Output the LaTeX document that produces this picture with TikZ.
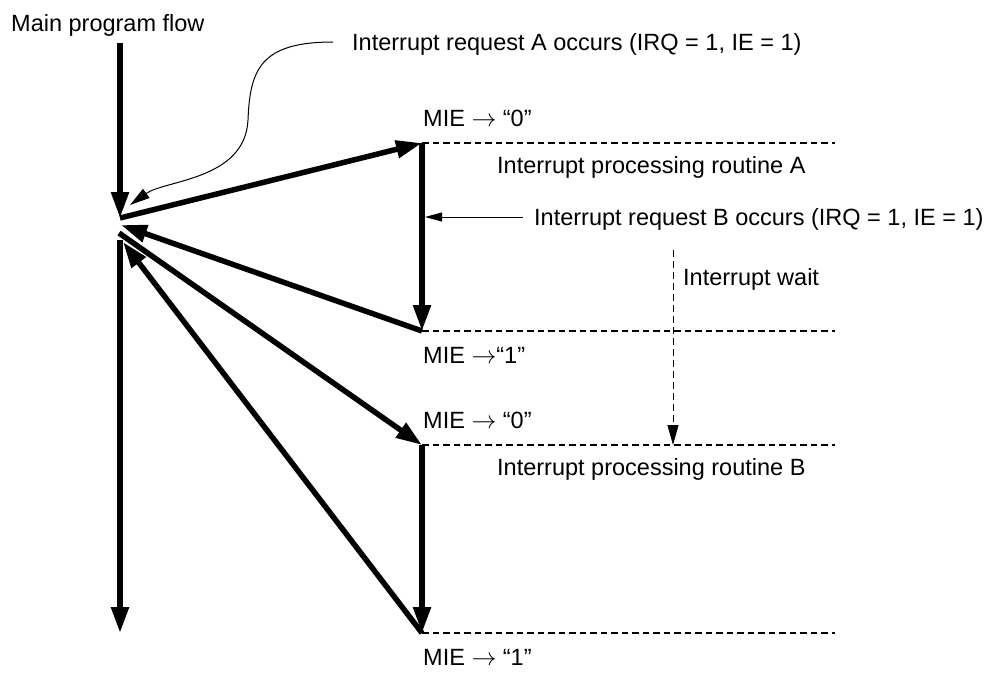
\documentclass[tikz,border=0pt]{standalone}
\usepackage{fontspec}
\setmainfont{Liberation Sans}
\usetikzlibrary{arrows.meta}
\tikzset{
  lbl/.style={anchor=base west, inner sep=0pt, font=\fontsize{23.5}{28}\selectfont},
  flow/.style={line width=5.5pt, -{Triangle[length=26pt,width=17pt]}},
  thinarrow/.style={line width=1pt, -{Triangle[length=17pt,width=9pt]}},
  curvearrow/.style={line width=1pt, -{Triangle[length=20pt,width=11pt]}},
  waitarrow/.style={line width=1pt, dash pattern=on 7pt off 4pt, -{Triangle[length=20pt,width=11pt]}},
  level/.style={line width=1.3pt, dash pattern=on 6.5pt off 4pt},
}
\begin{document}
\begin{tikzpicture}[x=1pt,y=-1pt]
\useasboundingbox (0,0) rectangle (995,673);

% labels
\node[lbl] (main) at (11,31) {Main program flow};
\node[lbl] (reqA) at (352,50) {Interrupt request A occurs (IRQ = 1, IE = 1)};
\node[lbl] (mieA0) at (423,126) {MIE $\rightarrow$ “0”};
\node[lbl] (routA) at (497,173) {Interrupt processing routine A};
\node[lbl] (reqB) at (534,225) {Interrupt request B occurs (IRQ = 1, IE = 1)};
\node[lbl] (wait) at (683,285) {Interrupt wait};
\node[lbl] (mieA1) at (423,363) {MIE $\rightarrow$“1”};
\node[lbl] (mieB0) at (423,428) {MIE $\rightarrow$ “0”};
\node[lbl] (routB) at (497,475) {Interrupt processing routine B};
\node[lbl] (mieB1) at (423,665) {MIE $\rightarrow$ “1”};

% key points
\coordinate (top) at (120,43);
\coordinate (j1) at (120,218);
\coordinate (j2) at (121,225);
\coordinate (j3) at (119,233);
\coordinate (j4) at (123,242);
\coordinate (mainstart) at (120,240);
\coordinate (mainend) at (120,633);
\coordinate (As) at (422,143);
\coordinate (Ae) at (422,331);
\coordinate (Bs) at (422,445);
\coordinate (Be) at (422,633);
\coordinate (dashend1) at (835,143);
\coordinate (dashend2) at (835,331);
\coordinate (dashend3) at (835,445);
\coordinate (dashend4) at (835,633);
\coordinate (reqAstart) at (333,42);
\coordinate (reqAtip) at (130,205);
\coordinate (reqBstart) at (523,217);
\coordinate (reqBtip) at (425,217);
\coordinate (waitstart) at (673,250);
\coordinate (waittip) at (673,445);

% dashed level lines
\draw[level] (As) -- (dashend1);
\draw[level] (Ae) -- (dashend2);
\draw[level] (Bs) -- (dashend3);
\draw[level] (Be) -- (dashend4);

% main flow
\draw[flow] (top) -- (j1);
\draw[flow] (j1) -- (As);
\draw[flow] (As) -- (Ae);
\draw[flow] (Ae) -- (j2);
\draw[flow] (j3) -- (Bs);
\draw[flow] (Bs) -- (Be);
\draw[flow] (Be) -- (j4);
\draw[flow] (mainstart) -- (mainend);

% annotations
\draw[curvearrow] (reqAstart) .. controls (260,42) and (250,70) .. (248,120)
   .. controls (245,180) and (165,180) .. (reqAtip);
\draw[thinarrow] (reqBstart) -- (reqBtip);
\draw[waitarrow] (waitstart) -- (waittip);
\end{tikzpicture}
\end{document}
